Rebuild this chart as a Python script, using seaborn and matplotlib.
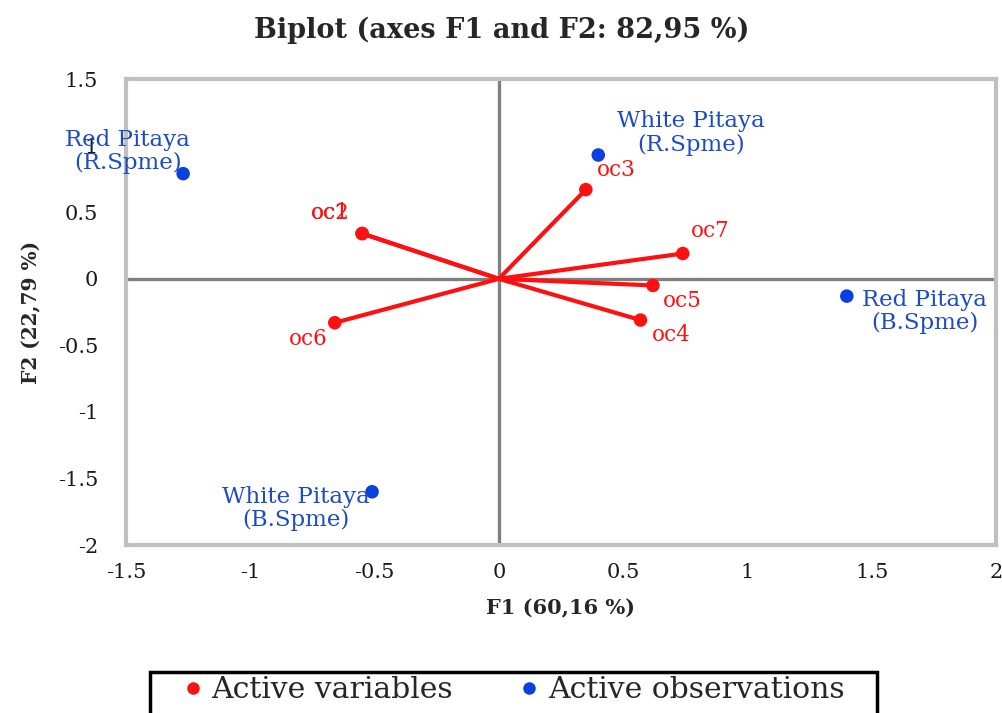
import matplotlib
matplotlib.use("Agg")
import matplotlib.pyplot as plt
import seaborn as sns
import pandas as pd
from matplotlib.lines import Line2D
from matplotlib.patches import Rectangle

# variables (loadings)
var_names = ["oc1", "oc2", "oc3", "oc4", "oc5", "oc6", "oc7"]
var_f1 = [-0.55, -0.55, 0.35, 0.57, 0.62, -0.66, 0.74]
var_f2 = [0.34, 0.34, 0.67, -0.31, -0.05, -0.33, 0.19]

# observations (scores)
obs_names = ["Red Pitaya\n(R.Spme)", "White Pitaya\n(R.Spme)",
             "Red Pitaya\n(B.Spme)", "White Pitaya\n(B.Spme)"]
obs_f1 = [-1.27, 0.40, 1.40, -0.51]
obs_f2 = [0.79, 0.93, -0.13, -1.60]

x_ticks = [-1.5, -1, -0.5, 0, 0.5, 1, 1.5, 2]
y_ticks = [-2, -1.5, -1, -0.5, 0, 0.5, 1, 1.5]

red = "#ff1010"
blue_pt = "#0a3fe0"
blue_txt = "#1b4cc4"

sns.set_style("white")
plt.rcParams["font.family"] = ["DejaVu Serif"]

df_var = pd.DataFrame({"F1": var_f1, "F2": var_f2, "name": var_names})
df_obs = pd.DataFrame({"F1": obs_f1, "F2": obs_f2, "name": obs_names})

fig = plt.figure(figsize=(10.03, 7.13), dpi=100)
ax = fig.add_axes([0.1256, 0.2356, 0.8674, 0.6534])

ax.axhline(0, color="#808080", lw=2.4, zorder=1)
ax.axvline(0, color="#808080", lw=2.4, zorder=1)

for _, r in df_var.iterrows():
    ax.plot([0, r["F1"]], [0, r["F2"]], color=red, lw=3, zorder=2)
sns.scatterplot(data=df_var, x="F1", y="F2", ax=ax, color=red, s=95,
                edgecolor="none", zorder=3, legend=False)
sns.scatterplot(data=df_obs, x="F1", y="F2", ax=ax, color=blue_pt, s=95,
                edgecolor="none", zorder=3, legend=False)

# variable labels (offsets in points)
var_offsets = {"oc1": (-23, 15), "oc2": (-23, 15), "oc3": (22, 14), "oc4": (22, -11),
               "oc5": (21, -11), "oc6": (-19, -12), "oc7": (20, 16)}
for _, r in df_var.iterrows():
    dx, dy = var_offsets[r["name"]]
    ax.annotate(r["name"], (r["F1"], r["F2"]), xytext=(dx, dy),
                textcoords="offset points", ha="center", va="center",
                color=red, fontsize=15.5, zorder=4)

obs_offsets = [((-40, 16), "center"), ((67, 16), "center"),
               ((11, -11), "left"), ((-55, -12), "center")]
for (_, r), ((dx, dy), ha) in zip(df_obs.iterrows(), obs_offsets):
    ax.annotate(r["name"], (r["F1"], r["F2"]), xytext=(dx, dy),
                textcoords="offset points", ha=ha, va="center",
                color=blue_txt, fontsize=16.5, zorder=4, linespacing=1.08,
                multialignment="center")

ax.set_xlim(-1.5, 2)
ax.set_ylim(-2, 1.5)
ax.set_xticks(x_ticks)
ax.set_yticks(y_ticks)
ax.set_xticklabels([f"{t:g}" for t in x_ticks])
ax.set_yticklabels([f"{t:g}" for t in y_ticks])
ax.tick_params(axis="both", length=0, labelsize=15, colors="#1a1a1a")
ax.tick_params(axis="y", pad=20)
ax.tick_params(axis="x", pad=13)
for s in ax.spines.values():
    s.set_visible(True)
    s.set_color("#c0c0c0")
    s.set_linewidth(3)

ax.set_xlabel("F1 (60,16 %)", fontsize=15, fontweight="bold", labelpad=12)
ax.set_ylabel("F2 (22,79 %)", fontsize=14.5, fontweight="bold", labelpad=12)
fig.suptitle("Biplot (axes F1 and F2: 82,95 %)", fontsize=19.5,
             fontweight="bold", y=0.958, va="center")

# legend with a square black frame, cut off at the bottom as in the source
fig.patches.append(Rectangle((0.1496, -0.05), 0.7248, 0.1075,
                             transform=fig.transFigure, fill=False,
                             edgecolor="black", lw=2.5))
handles = [Line2D([], [], marker="o", ls="none", color=red, markersize=8),
           Line2D([], [], marker="o", ls="none", color=blue_pt, markersize=8)]
fig.legend(handles, ["Active variables", "Active observations"],
           loc="center left", bbox_to_anchor=(0.1775, 0.032),
           bbox_transform=fig.transFigure, ncol=2, fontsize=21.5,
           frameon=False, handletextpad=0.12, columnspacing=2.05,
           borderpad=0, handlelength=1.0, borderaxespad=0)

plt.savefig("out.png", dpi=100)
